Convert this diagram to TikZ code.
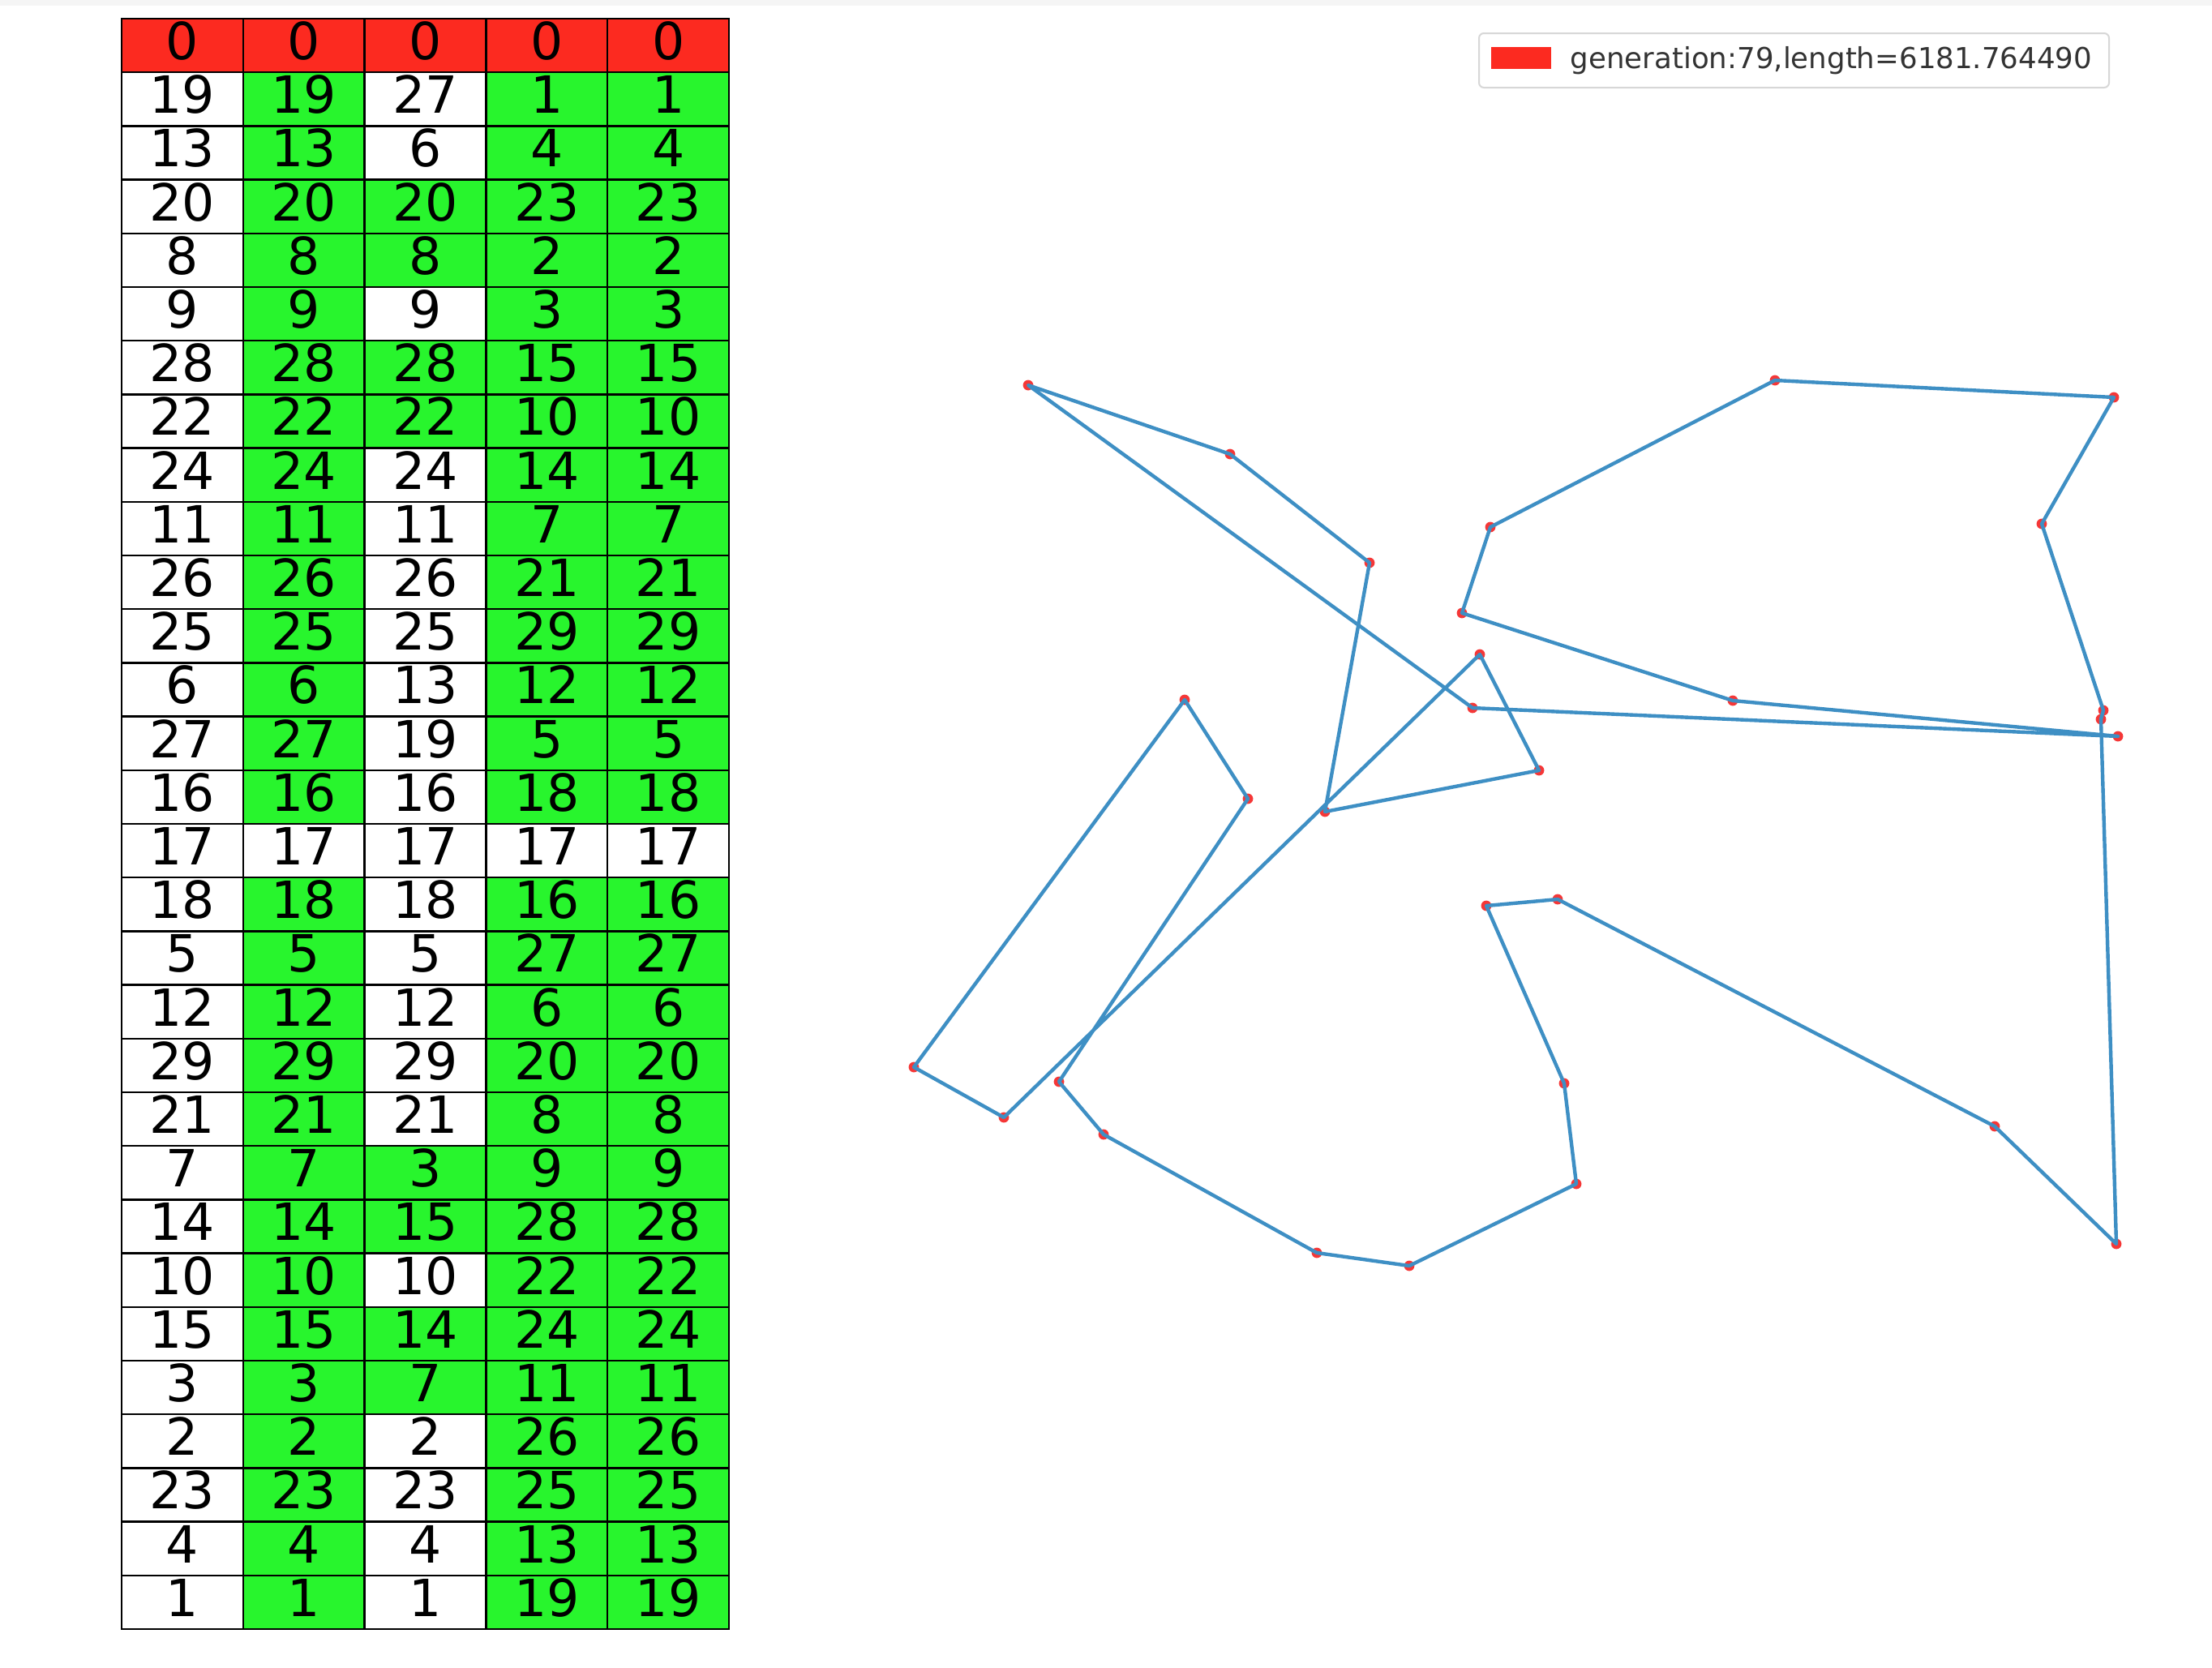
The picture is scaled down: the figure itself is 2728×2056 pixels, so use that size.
\documentclass[tikz,border=0pt]{standalone}
\usepackage{fontspec}
\setmainfont{DejaVu Sans}
\definecolor{cellred}{RGB}{252,42,32}
\definecolor{cellgreen}{RGB}{40,245,45}
\definecolor{tourblue}{RGB}{62,143,196}
\definecolor{dotred}{RGB}{245,55,55}
\definecolor{legedge}{RGB}{215,215,215}
\begin{document}
\begin{tikzpicture}[x=0.25pt,y=-0.25pt,
  cell/.style={draw=black, line width=0.6pt, minimum width=37.45pt, minimum height=16.55pt,
    inner sep=0pt, font=\fontsize{15.8}{16}\selectfont, text height=11.5pt, text depth=2.8pt},
  tour/.style={draw=tourblue, line width=1.1pt, line join=round},
  dot/.style={fill=dotred}]
\useasboundingbox (0,0) rectangle (2728,2056);
\fill[white] (0,0) rectangle (2728,2056);
\fill[gray!8] (0,0) rectangle (2728,7);

% ---- table ----
\foreach \j in {1,...,5}
  \node[cell, fill=cellred] (c0-\j) at ({150+(\j-0.5)*149.8}, {23+0.5*66.2}) {0};
\foreach \i/\a/\c/\cc/\d/\k in {
1/19/27/white/1/cellgreen,
2/13/6/white/4/cellgreen,
3/20/20/cellgreen/23/cellgreen,
4/8/8/cellgreen/2/cellgreen,
5/9/9/white/3/cellgreen,
6/28/28/cellgreen/15/cellgreen,
7/22/22/cellgreen/10/cellgreen,
8/24/24/white/14/cellgreen,
9/11/11/white/7/cellgreen,
10/26/26/white/21/cellgreen,
11/25/25/white/29/cellgreen,
12/6/13/white/12/cellgreen,
13/27/19/white/5/cellgreen,
14/16/16/white/18/cellgreen,
15/17/17/white/17/white,
16/18/18/white/16/cellgreen,
17/5/5/white/27/cellgreen,
18/12/12/white/6/cellgreen,
19/29/29/white/20/cellgreen,
20/21/21/white/8/cellgreen,
21/7/3/cellgreen/9/cellgreen,
22/14/15/cellgreen/28/cellgreen,
23/10/10/white/22/cellgreen,
24/15/14/cellgreen/24/cellgreen,
25/3/7/cellgreen/11/cellgreen,
26/2/2/white/26/cellgreen,
27/23/23/white/25/cellgreen,
28/4/4/white/13/cellgreen,
29/1/1/white/19/cellgreen}{
  \node[cell, fill=white] (c\i-1) at ({150+0.5*149.8}, {23+(\i+0.5)*66.2}) {\a};
  \node[cell, fill=\k]    (c\i-2) at ({150+1.5*149.8}, {23+(\i+0.5)*66.2}) {\a};
  \node[cell, fill=\cc]   (c\i-3) at ({150+2.5*149.8}, {23+(\i+0.5)*66.2}) {\c};
  \node[cell, fill=\k]    (c\i-4) at ({150+3.5*149.8}, {23+(\i+0.5)*66.2}) {\d};
  \node[cell, fill=\k]    (c\i-5) at ({150+4.5*149.8}, {23+(\i+0.5)*66.2}) {\d};
}

% ---- tour ----
\coordinate (p1) at (1268,475);
\coordinate (p2) at (1517,560);
\coordinate (p3) at (1689,694);
\coordinate (p4) at (1634,1001);
\coordinate (p5) at (1825,807);
\coordinate (p6) at (1898,950);
\coordinate (p7) at (1816,873);
\coordinate (p8) at (2612,908);
\coordinate (p9a) at (2594,876);
\coordinate (p9b) at (2591,887);
\coordinate (p10) at (2137,864);
\coordinate (p11) at (1803,756);
\coordinate (p12) at (1838,650);
\coordinate (p13) at (2189,469);
\coordinate (p14) at (2607,490);
\coordinate (p15) at (2518,646);
\coordinate (p16) at (2610,1534);
\coordinate (p17) at (2460,1389);
\coordinate (p18) at (1921,1109);
\coordinate (p19) at (1833,1117);
\coordinate (p20) at (1929,1336);
\coordinate (p21) at (1944,1460);
\coordinate (p22) at (1738,1561);
\coordinate (p23) at (1624,1545);
\coordinate (p24) at (1361,1399);
\coordinate (p25) at (1306,1334);
\coordinate (p26) at (1539,985);
\coordinate (p27) at (1461,863);
\coordinate (p28) at (1127,1316);
\coordinate (p29) at (1238,1378);

\foreach \p in {p1,p2,p3,p4,p5,p6,p7,p8,p9a,p9b,p10,p11,p12,p13,p14,p15,p16,p17,p18,p19,p20,p21,p22,p23,p24,p25,p26,p27,p28,p29}
  \fill[dot] (\p) circle (1.6pt);

\draw[tour] (p1) -- (p2) -- (p3) -- (p4) -- (p6) -- (p5) -- (p29) -- (p28) -- (p27) -- (p26)
  -- (p25) -- (p24) -- (p23) -- (p22) -- (p21) -- (p20) -- (p19) -- (p18) -- (p17) -- (p16)
  -- (p9b) -- (p9a) -- (p15) -- (p14) -- (p13) -- (p12) -- (p11) -- (p10) -- (p8) -- (p7) -- cycle;

% ---- legend ----
\node[draw=legedge, line width=0.5pt, fill=white, rounded corners=1.5pt, anchor=north west,
  minimum width=194.25pt, minimum height=16.75pt, inner sep=0pt] (legend) at (1823,40) {};
\node[fill=cellred, anchor=north west, minimum width=18.5pt, minimum height=6.75pt, inner sep=0pt]
  (legpatch) at (1838,57) {};
\node[anchor=base west, inner sep=0pt, text=black!80, font=\fontsize{8.9}{10}\selectfont]
  (legtext) at (1936,84) {generation:79,length=6181.764490};
\end{tikzpicture}
\end{document}
